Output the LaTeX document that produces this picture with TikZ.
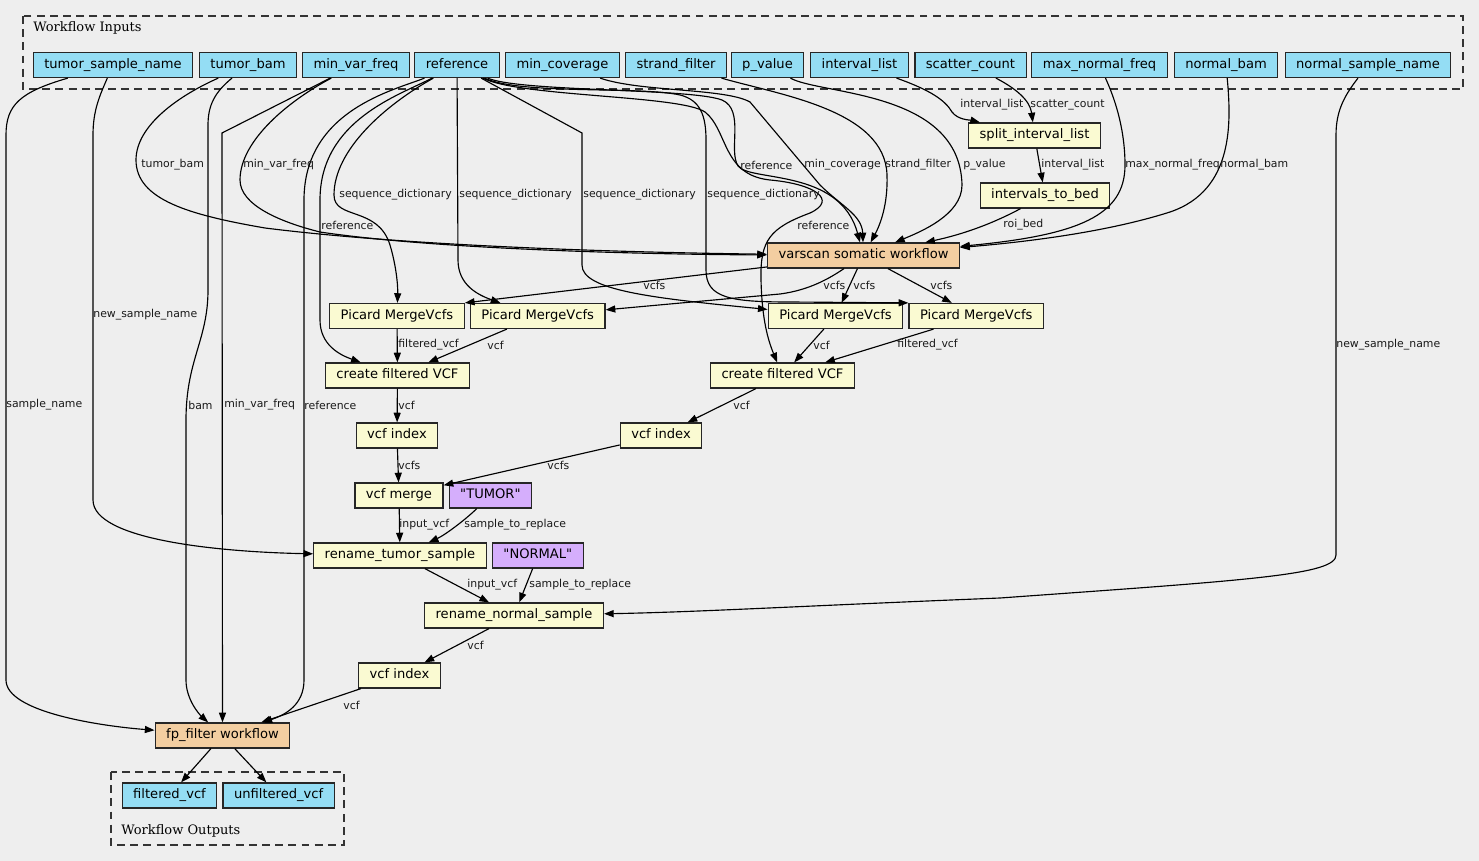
\documentclass[tikz,border=0pt]{standalone}
\usepackage{fontspec}
\setmainfont{DejaVu Sans}
\newfontfamily\clusterfont{DejaVu Serif}
\usepackage{xcolor}
\definecolor{inputblue}{HTML}{94DDF4}
\definecolor{stepyellow}{HTML}{FAFAD2}
\definecolor{subwforange}{HTML}{F3CEA1}
\definecolor{defpurple}{HTML}{D5AEFC}
\definecolor{canvas}{HTML}{EEEEEE}
\usepackage{tikz}
\usetikzlibrary{arrows.meta, positioning}

\begin{document}
\begin{tikzpicture}[
  x=0.02cm, y=-0.02cm,
  box/.style={rectangle, draw=black!85, line width=0.7pt, minimum height=0.5cm,
              inner xsep=0.22cm, inner ysep=0pt, text height=5.5pt, text depth=1.8pt,
              font=\fontsize{7.45}{8}\selectfont},
  input/.style={box, fill=inputblue},
  tool/.style={box, fill=stepyellow},
  subwf/.style={box, fill=subwforange},
  value/.style={box, fill=defpurple},
  cluster/.style={draw=black!80, dash pattern=on 4.5pt off 3pt, line width=0.7pt},
  clabel/.style={anchor=west, inner sep=0pt, font=\clusterfont\fontsize{7.4}{9}\selectfont},
  arrow/.style={-{Triangle[length=5.5pt, width=4pt]}, draw=black, line width=0.65pt},
  lbl/.style={anchor=west, inner sep=0pt, font=\fontsize{6.2}{7}\selectfont, text=black!90},
]
\useasboundingbox (0,0) rectangle (1479,861);
\fill[canvas] (0,0) rectangle (1479,861);

% clusters
\draw[cluster] (23,16) rectangle (1463,89);
\node[clabel] (inlabel) at (33,28) {Workflow Inputs};
\draw[cluster] (111,772) rectangle (344,845);
\node[clabel] (outlabel) at (121,831) {Workflow Outputs};

% workflow inputs
\node[input] (tsn)    at (113,65)    {tumor\_sample\_name};
\node[input] (tbam)   at (248,65)    {tumor\_bam};
\node[input] (mvf)    at (356,65)    {min\_var\_freq};
\node[input] (ref)    at (457,65)    {reference};
\node[input] (mcov)   at (562.5,65)  {min\_coverage};
\node[input] (sfil)   at (676,65)    {strand\_filter};
\node[input] (pval)   at (767.5,65)  {p\_value};
\node[input] (ilist)  at (859.5,65)  {interval\_list};
\node[input] (scount) at (970.5,65)  {scatter\_count};
\node[input] (mnf)    at (1099.5,65) {max\_normal\_freq};
\node[input] (nbam)   at (1226,65)   {normal\_bam};
\node[input] (nsn)    at (1368,65)   {normal\_sample\_name};

% steps
\node[tool]  (split) at (1034.5,135.5) {split\_interval\_list};
\node[tool]  (itb)   at (1045,195.5)   {intervals\_to\_bed};
\node[subwf] (vsw)   at (863.5,255.5)  {varscan somatic workflow};

\node[tool] (pic1) at (397,316)   {Picard MergeVcfs};
\node[tool, right=0.1cm of pic1] (pic2) {Picard MergeVcfs};
\node[tool] (pic3) at (835.5,316) {Picard MergeVcfs};
\node[tool, right=0.1cm of pic3] (pic4) {Picard MergeVcfs};

\node[tool] (cfv1) at (397.5,375.5) {create filtered VCF};
\node[tool] (cfv2) at (782.5,375.5) {create filtered VCF};
\node[tool] (vi1)  at (397,435.5)   {vcf index};
\node[tool] (vi2)  at (661,435.5)   {vcf index};
\node[tool] (vm)   at (399,495.5)   {vcf merge};
\node[value, right=0.1cm of vm] (tumor) {\textquotedbl TUMOR\textquotedbl};
\node[tool] (rts)  at (400,555.5)   {rename\_tumor\_sample};
\node[value, right=0.1cm of rts] (normal) {\textquotedbl NORMAL\textquotedbl};
\node[tool] (rns)  at (514,615.5)   {rename\_normal\_sample};
\node[tool] (vi3)  at (399.5,675.5) {vcf index};
\node[subwf] (fpf) at (222.5,735.5) {fp\_filter workflow};

% workflow outputs
\node[input] (fvcf) at (169.5,795.5) {filtered\_vcf};
\node[input, right=0.1cm of fvcf] (ufvcf) {unfiltered\_vcf};

% tumor side inputs
\draw[arrow] (tsn) .. controls (20,92) and (6,105) .. (6,135) -- (6,680)
  .. controls (6,712) and (100,726) .. (fpf);
\draw[arrow] (tsn) .. controls (100,95) and (93,110) .. (93,135) -- (93,500)
  .. controls (93,540) and (220,552) .. (rts);
\draw[arrow] (tbam) .. controls (180,95) and (136,125) .. (136,160)
  .. controls (136,200) and (190,215) .. (265,228)
  .. controls (400,245) and (600,252) .. (vsw);
\draw[arrow] (tbam) .. controls (215,92) and (208,105) .. (208,125) -- (208,290)
  .. controls (208,340) and (186,360) .. (186,420) -- (186,680)
  .. controls (186,700) and (200,715) .. (fpf);
\draw[arrow] (mvf) .. controls (290,100) and (240,140) .. (240,180)
  .. controls (240,205) and (280,222) .. (320,232)
  .. controls (420,247) and (600,254) .. (vsw);
\draw[arrow] (mvf) -- (222,133) -- (fpf);

% reference fan-out
\draw[arrow] (ref) .. controls (395,90) and (304,110) .. (304,200) -- (304,680)
  .. controls (304,705) and (285,715) .. (fpf);
\draw[arrow] (ref) .. controls (400,95) and (320,120) .. (320,200) -- (320,320)
  .. controls (320,345) and (340,355) .. (cfv1);
\draw[arrow] (ref) .. controls (385,105) and (334,150) .. (334,195)
  .. controls (334,220) and (378,206) .. (390,245)
  .. controls (396,265) and (398,285) .. (pic1);
\draw[arrow] (ref) -- (458,260) .. controls (458,285) and (478,295) .. (pic2);
\draw[arrow] (ref) -- (582,133) -- (582,265) .. controls (582,290) and (650,298) .. (pic3);
\draw[arrow] (ref) .. controls (520,95) and (640,86) .. (680,95)
  .. controls (700,100) and (706,115) .. (706,140) -- (706,270)
  .. controls (706,298) and (730,302) .. (790,302) -- (pic4.north west);
\draw[arrow] (ref) .. controls (520,92) and (690,88) .. (722,100)
  .. controls (745,110) and (728,150) .. (738,166)
  .. controls (750,182) and (840,168) .. (vsw);
\draw[arrow] (ref) .. controls (520,97) and (680,95) .. (705,112)
  .. controls (728,130) and (722,175) .. (770,180)
  .. controls (815,184) and (838,200) .. (810,213)
  .. controls (770,228) and (760,240) .. (761,280)
  .. controls (762,320) and (768,340) .. (cfv2);

% varscan parameters
\draw[arrow] (mcov) .. controls (640,92) and (725,88) .. (750,102) -- (820,185)
  .. controls (840,205) and (862,215) .. (vsw);
\draw[arrow] (sfil) .. controls (780,95) and (885,110) .. (887,175)
  .. controls (888,205) and (880,225) .. (vsw);
\draw[arrow] (pval) .. controls (820,95) and (960,90) .. (962,185)
  .. controls (962,215) and (920,232) .. (vsw);
\draw[arrow] (ilist) .. controls (930,90) and (945,100) .. (952,112)
  .. controls (958,120) and (970,120) .. (split);
\draw[arrow] (scount) .. controls (1015,88) and (1030,100) .. (split);
\draw[arrow] (split) -- (itb);
\draw[arrow] (itb) .. controls (990,225) and (960,235) .. (vsw);
\draw[arrow] (mnf) .. controls (1120,110) and (1125,140) .. (1125,165)
  .. controls (1125,215) and (1080,235) .. (vsw);
\draw[arrow] (nbam) .. controls (1231,120) and (1235,190) .. (1170,212)
  .. controls (1120,228) and (1050,240) .. (vsw);
\draw[arrow] (nsn) .. controls (1345,95) and (1336,110) .. (1336,135) -- (1336,555)
  .. controls (1336,575) and (1250,580) .. (1000,598)
  .. controls (800,606) and (700,612) .. (rns);

% merge and filter chain
\draw[arrow] (vsw) -- (pic1.north east);
\draw[arrow] (vsw) .. controls (830,278) and (810,290) .. (780,294) -- (pic2);
\draw[arrow] (vsw) -- (pic3);
\draw[arrow] (vsw) -- (pic4);
\draw[arrow] (pic1) -- (cfv1);
\draw[arrow] (pic2) -- (cfv1);
\draw[arrow] (pic3) -- (cfv2);
\draw[arrow] (pic4) -- (cfv2);
\draw[arrow] (cfv1) -- (vi1);
\draw[arrow] (cfv2) -- (vi2);
\draw[arrow] (vi1) -- (vm);
\draw[arrow] (vi2) -- (vm);
\draw[arrow] (vm) -- (rts);
\draw[arrow] (tumor) .. controls (465,520) and (445,535) .. (rts);
\draw[arrow] (rts) -- (rns);
\draw[arrow] (normal) -- (rns);
\draw[arrow] (rns) -- (vi3);
\draw[arrow] (vi3) -- (fpf);
\draw[arrow] (fpf) -- (fvcf);
\draw[arrow] (fpf) -- (ufvcf);

% edge labels
\node[lbl] (l-sname)  at (6,405)    {sample\_name};
\node[lbl] (l-nsn1)   at (93,315)   {new\_sample\_name};
\node[lbl] (l-tbam)   at (141,165)  {tumor\_bam};
\node[lbl] (l-bam)    at (188,405)  {bam};
\node[lbl] (l-mvf1)   at (243,165)  {min\_var\_freq};
\node[lbl] (l-mvf2)   at (224,405)  {min\_var\_freq};
\node[lbl] (l-ref1)   at (304,405)  {reference};
\node[lbl] (l-ref2)   at (321,225)  {reference};
\node[lbl] (l-sd1)    at (339,195)  {sequence\_dictionary};
\node[lbl] (l-sd2)    at (459,195)  {sequence\_dictionary};
\node[lbl] (l-sd3)    at (583,195)  {sequence\_dictionary};
\node[lbl] (l-sd4)    at (707,195)  {sequence\_dictionary};
\node[lbl] (l-ref3)   at (740,165)  {reference};
\node[lbl] (l-mcov)   at (804,165)  {min\_coverage};
\node[lbl] (l-sfil)   at (885,165)  {strand\_filter};
\node[lbl] (l-pval)   at (963,165)  {p\_value};
\node[lbl] (l-ref4)   at (797,225)  {reference};
\node[lbl] (l-il1)    at (960,105)  {interval\_list};
\node[lbl] (l-sc)     at (1030,105) {scatter\_count};
\node[lbl] (l-il2)    at (1041,165) {interval\_list};
\node[lbl] (l-roi)    at (1003,225) {roi\_bed};
\node[lbl] (l-mnf)    at (1125,165) {max\_normal\_freq};
\node[lbl] (l-nbam)   at (1220,165) {normal\_bam};
\node[lbl] (l-nsn2)   at (1336,345) {new\_sample\_name};
\node[lbl] (l-vcfs1)  at (643,285)  {vcfs};
\node[lbl] (l-vcfs2)  at (823,285)  {vcfs};
\node[lbl] (l-vcfs3)  at (853,285)  {vcfs};
\node[lbl] (l-vcfs4)  at (930,285)  {vcfs};
\node[lbl] (l-fv1)    at (398,345)  {filtered\_vcf};
\node[lbl] (l-vcf1)   at (487,345)  {vcf};
\node[lbl] (l-vcf2)   at (813,345)  {vcf};
\node[lbl] (l-fv2)    at (897,345)  {filtered\_vcf};
\node[lbl] (l-vcf3)   at (398,405)  {vcf};
\node[lbl] (l-vcf4)   at (733,405)  {vcf};
\node[lbl] (l-vcfs5)  at (398,465)  {vcfs};
\node[lbl] (l-vcfs6)  at (547,465)  {vcfs};
\node[lbl] (l-in1)    at (399,525)  {input\_vcf};
\node[lbl] (l-str1)   at (464,525)  {sample\_to\_replace};
\node[lbl] (l-in2)    at (467,585)  {input\_vcf};
\node[lbl] (l-str2)   at (529,585)  {sample\_to\_replace};
\node[lbl] (l-vcf5)   at (467,645)  {vcf};
\node[lbl] (l-vcf6)   at (343,705)  {vcf};

\end{tikzpicture}
\end{document}
